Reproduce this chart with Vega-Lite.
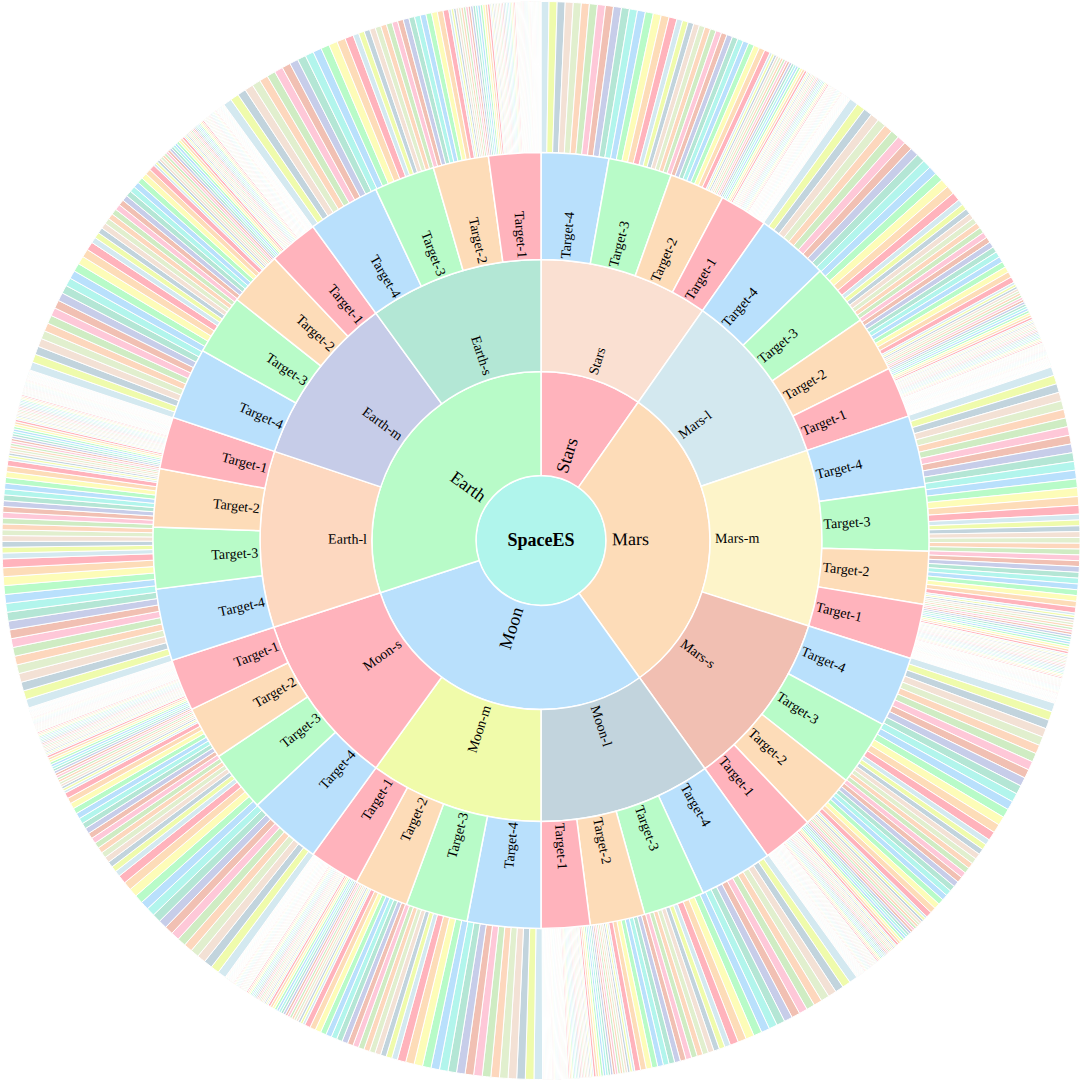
{
  "$schema": "https://vega.github.io/schema/vega-lite/v6.json",
  "width": 1082,
  "height": 1081,
  "autosize": {"type": "fit", "contains": "padding"},
  "padding": 0,
  "background": "white",
  "config": {"view": {"stroke": null}},
  "datasets": {
    "inner": [
      {"level": 0, "name": "SpaceES", "value": 1},
      {"level": 1, "name": "Stars", "value": 351},
      {"level": 1, "name": "Mars", "value": 1092},
      {"level": 1, "name": "Moon", "value": 1077},
      {"level": 1, "name": "Earth", "value": 1080},
      {"level": 2, "name": "Stars", "value": 351},
      {"level": 2, "name": "Mars-l", "value": 362},
      {"level": 2, "name": "Mars-m", "value": 364},
      {"level": 2, "name": "Mars-s", "value": 366},
      {"level": 2, "name": "Moon-l", "value": 357},
      {"level": 2, "name": "Moon-m", "value": 360},
      {"level": 2, "name": "Moon-s", "value": 360},
      {"level": 2, "name": "Earth-l", "value": 365},
      {"level": 2, "name": "Earth-m", "value": 355},
      {"level": 2, "name": "Earth-s", "value": 360},
      {"level": 3, "parent": "Stars", "name": "Target-4", "value": 101},
      {"level": 3, "parent": "Stars", "name": "Target-3", "value": 95},
      {"level": 3, "parent": "Stars", "name": "Target-2", "value": 83},
      {"level": 3, "parent": "Stars", "name": "Target-1", "value": 72},
      {"level": 3, "parent": "Mars-l", "name": "Target-4", "value": 109},
      {"level": 3, "parent": "Mars-l", "name": "Target-3", "value": 94},
      {"level": 3, "parent": "Mars-l", "name": "Target-2", "value": 83},
      {"level": 3, "parent": "Mars-l", "name": "Target-1", "value": 76},
      {"level": 3, "parent": "Mars-m", "name": "Target-4", "value": 107},
      {"level": 3, "parent": "Mars-m", "name": "Target-3", "value": 96},
      {"level": 3, "parent": "Mars-m", "name": "Target-2", "value": 79},
      {"level": 3, "parent": "Mars-m", "name": "Target-1", "value": 82},
      {"level": 3, "parent": "Mars-s", "name": "Target-4", "value": 106},
      {"level": 3, "parent": "Mars-s", "name": "Target-3", "value": 99},
      {"level": 3, "parent": "Mars-s", "name": "Target-2", "value": 84},
      {"level": 3, "parent": "Mars-s", "name": "Target-1", "value": 77},
      {"level": 3, "parent": "Moon-l", "name": "Target-4", "value": 110},
      {"level": 3, "parent": "Moon-l", "name": "Target-3", "value": 92},
      {"level": 3, "parent": "Moon-l", "name": "Target-2", "value": 82},
      {"level": 3, "parent": "Moon-l", "name": "Target-1", "value": 73},
      {"level": 3, "parent": "Moon-m", "name": "Target-4", "value": 110},
      {"level": 3, "parent": "Moon-m", "name": "Target-3", "value": 93},
      {"level": 3, "parent": "Moon-m", "name": "Target-2", "value": 81},
      {"level": 3, "parent": "Moon-m", "name": "Target-1", "value": 76},
      {"level": 3, "parent": "Moon-s", "name": "Target-4", "value": 110},
      {"level": 3, "parent": "Moon-s", "name": "Target-3", "value": 92},
      {"level": 3, "parent": "Moon-s", "name": "Target-2", "value": 80},
      {"level": 3, "parent": "Moon-s", "name": "Target-1", "value": 78},
      {"level": 3, "parent": "Earth-l", "name": "Target-4", "value": 108},
      {"level": 3, "parent": "Earth-l", "name": "Target-3", "value": 92},
      {"level": 3, "parent": "Earth-l", "name": "Target-2", "value": 87},
      {"level": 3, "parent": "Earth-l", "name": "Target-1", "value": 78},
      {"level": 3, "parent": "Earth-m", "name": "Target-4", "value": 108},
      {"level": 3, "parent": "Earth-m", "name": "Target-3", "value": 91},
      {"level": 3, "parent": "Earth-m", "name": "Target-2", "value": 82},
      {"level": 3, "parent": "Earth-m", "name": "Target-1", "value": 74},
      {"level": 3, "parent": "Earth-s", "name": "Target-4", "value": 108},
      {"level": 3, "parent": "Earth-s", "name": "Target-3", "value": 91},
      {"level": 3, "parent": "Earth-s", "name": "Target-2", "value": 83},
      {"level": 3, "parent": "Earth-s", "name": "Target-1", "value": 78}
    ],
    "outer": [
      {"g": "Stars", "leaves": [8.6,8.6,8.6,8.6,8.6,8.6,8.6,8.6,8.6,8.6,8.6,8.6,8.6,8.6,8.6,8.6,8.6,6.2,6.2,6.2,6.2,6.2,6.2,6.2,6.2,6.2,6.2,6.2,6.2,6.2,6.2,6.2,6.2,6.2,2.6,2.6,2.6,2.6,2.6,2.6,2.6,2.6,2.6,2.6,2.6,2.6,2.6,2.6,2.6,2.6,2.6,1.6,1.6,1.6,1.6,1.6,1.6,1.6,1.6,1.6,1.6,1.6,1.6,1.6,1.6,1.6,1.6,1.6,1,1,1,1,1,1,1,1,1,1,1,1,1,1,1,1,1,0.6,0.6,0.6,0.6,0.6,0.6,0.6,0.6,0.6,0.6,0.6,0.6,0.6,0.6,0.6,0.6,0.6]},
      {"g": "Mars-l", "leaves": [9.3,9.3,9.3,9.3,9.3,9.3,9.3,9.3,9.3,9.3,9.3,9.3,9.3,9.3,9.3,9.3,9.3,6.2,6.2,6.2,6.2,6.2,6.2,6.2,6.2,6.2,6.2,6.2,6.2,6.2,6.2,6.2,6.2,6.2,2.6,2.6,2.6,2.6,2.6,2.6,2.6,2.6,2.6,2.6,2.6,2.6,2.6,2.6,2.6,2.6,2.6,1.6,1.6,1.6,1.6,1.6,1.6,1.6,1.6,1.6,1.6,1.6,1.6,1.6,1.6,1.6,1.6,1.6,1,1,1,1,1,1,1,1,1,1,1,1,1,1,1,1,1,0.6,0.6,0.6,0.6,0.6,0.6,0.6,0.6,0.6,0.6,0.6,0.6,0.6,0.6,0.6,0.6,0.6]},
      {"g": "Mars-m", "leaves": [9.4,9.4,9.4,9.4,9.4,9.4,9.4,9.4,9.4,9.4,9.4,9.4,9.4,9.4,9.4,9.4,9.4,6.2,6.2,6.2,6.2,6.2,6.2,6.2,6.2,6.2,6.2,6.2,6.2,6.2,6.2,6.2,6.2,6.2,2.6,2.6,2.6,2.6,2.6,2.6,2.6,2.6,2.6,2.6,2.6,2.6,2.6,2.6,2.6,2.6,2.6,1.6,1.6,1.6,1.6,1.6,1.6,1.6,1.6,1.6,1.6,1.6,1.6,1.6,1.6,1.6,1.6,1.6,1,1,1,1,1,1,1,1,1,1,1,1,1,1,1,1,1,0.6,0.6,0.6,0.6,0.6,0.6,0.6,0.6,0.6,0.6,0.6,0.6,0.6,0.6,0.6,0.6,0.6]},
      {"g": "Mars-s", "leaves": [9.5,9.5,9.5,9.5,9.5,9.5,9.5,9.5,9.5,9.5,9.5,9.5,9.5,9.5,9.5,9.5,9.5,6.2,6.2,6.2,6.2,6.2,6.2,6.2,6.2,6.2,6.2,6.2,6.2,6.2,6.2,6.2,6.2,6.2,2.6,2.6,2.6,2.6,2.6,2.6,2.6,2.6,2.6,2.6,2.6,2.6,2.6,2.6,2.6,2.6,2.6,1.6,1.6,1.6,1.6,1.6,1.6,1.6,1.6,1.6,1.6,1.6,1.6,1.6,1.6,1.6,1.6,1.6,1,1,1,1,1,1,1,1,1,1,1,1,1,1,1,1,1,0.6,0.6,0.6,0.6,0.6,0.6,0.6,0.6,0.6,0.6,0.6,0.6,0.6,0.6,0.6,0.6,0.6]},
      {"g": "Moon-l", "leaves": [9,9,9,9,9,9,9,9,9,9,9,9,9,9,9,9,9,6.2,6.2,6.2,6.2,6.2,6.2,6.2,6.2,6.2,6.2,6.2,6.2,6.2,6.2,6.2,6.2,6.2,2.6,2.6,2.6,2.6,2.6,2.6,2.6,2.6,2.6,2.6,2.6,2.6,2.6,2.6,2.6,2.6,2.6,1.6,1.6,1.6,1.6,1.6,1.6,1.6,1.6,1.6,1.6,1.6,1.6,1.6,1.6,1.6,1.6,1.6,1,1,1,1,1,1,1,1,1,1,1,1,1,1,1,1,1,0.6,0.6,0.6,0.6,0.6,0.6,0.6,0.6,0.6,0.6,0.6,0.6,0.6,0.6,0.6,0.6,0.6]},
      {"g": "Moon-m", "leaves": [9.2,9.2,9.2,9.2,9.2,9.2,9.2,9.2,9.2,9.2,9.2,9.2,9.2,9.2,9.2,9.2,9.2,6.2,6.2,6.2,6.2,6.2,6.2,6.2,6.2,6.2,6.2,6.2,6.2,6.2,6.2,6.2,6.2,6.2,2.6,2.6,2.6,2.6,2.6,2.6,2.6,2.6,2.6,2.6,2.6,2.6,2.6,2.6,2.6,2.6,2.6,1.6,1.6,1.6,1.6,1.6,1.6,1.6,1.6,1.6,1.6,1.6,1.6,1.6,1.6,1.6,1.6,1.6,1,1,1,1,1,1,1,1,1,1,1,1,1,1,1,1,1,0.6,0.6,0.6,0.6,0.6,0.6,0.6,0.6,0.6,0.6,0.6,0.6,0.6,0.6,0.6,0.6,0.6]},
      {"g": "Moon-s", "leaves": [9.2,9.2,9.2,9.2,9.2,9.2,9.2,9.2,9.2,9.2,9.2,9.2,9.2,9.2,9.2,9.2,9.2,6.2,6.2,6.2,6.2,6.2,6.2,6.2,6.2,6.2,6.2,6.2,6.2,6.2,6.2,6.2,6.2,6.2,2.6,2.6,2.6,2.6,2.6,2.6,2.6,2.6,2.6,2.6,2.6,2.6,2.6,2.6,2.6,2.6,2.6,1.6,1.6,1.6,1.6,1.6,1.6,1.6,1.6,1.6,1.6,1.6,1.6,1.6,1.6,1.6,1.6,1.6,1,1,1,1,1,1,1,1,1,1,1,1,1,1,1,1,1,0.6,0.6,0.6,0.6,0.6,0.6,0.6,0.6,0.6,0.6,0.6,0.6,0.6,0.6,0.6,0.6,0.6]},
      {"g": "Earth-l", "leaves": [9.5,9.5,9.5,9.5,9.5,9.5,9.5,9.5,9.5,9.5,9.5,9.5,9.5,9.5,9.5,9.5,9.5,6.2,6.2,6.2,6.2,6.2,6.2,6.2,6.2,6.2,6.2,6.2,6.2,6.2,6.2,6.2,6.2,6.2,2.6,2.6,2.6,2.6,2.6,2.6,2.6,2.6,2.6,2.6,2.6,2.6,2.6,2.6,2.6,2.6,2.6,1.6,1.6,1.6,1.6,1.6,1.6,1.6,1.6,1.6,1.6,1.6,1.6,1.6,1.6,1.6,1.6,1.6,1,1,1,1,1,1,1,1,1,1,1,1,1,1,1,1,1,0.6,0.6,0.6,0.6,0.6,0.6,0.6,0.6,0.6,0.6,0.6,0.6,0.6,0.6,0.6,0.6,0.6]},
      {"g": "Earth-m", "leaves": [8.9,8.9,8.9,8.9,8.9,8.9,8.9,8.9,8.9,8.9,8.9,8.9,8.9,8.9,8.9,8.9,8.9,6.2,6.2,6.2,6.2,6.2,6.2,6.2,6.2,6.2,6.2,6.2,6.2,6.2,6.2,6.2,6.2,6.2,2.6,2.6,2.6,2.6,2.6,2.6,2.6,2.6,2.6,2.6,2.6,2.6,2.6,2.6,2.6,2.6,2.6,1.6,1.6,1.6,1.6,1.6,1.6,1.6,1.6,1.6,1.6,1.6,1.6,1.6,1.6,1.6,1.6,1.6,1,1,1,1,1,1,1,1,1,1,1,1,1,1,1,1,1,0.6,0.6,0.6,0.6,0.6,0.6,0.6,0.6,0.6,0.6,0.6,0.6,0.6,0.6,0.6,0.6,0.6]},
      {"g": "Earth-s", "leaves": [9.2,9.2,9.2,9.2,9.2,9.2,9.2,9.2,9.2,9.2,9.2,9.2,9.2,9.2,9.2,9.2,9.2,6.2,6.2,6.2,6.2,6.2,6.2,6.2,6.2,6.2,6.2,6.2,6.2,6.2,6.2,6.2,6.2,6.2,2.6,2.6,2.6,2.6,2.6,2.6,2.6,2.6,2.6,2.6,2.6,2.6,2.6,2.6,2.6,2.6,2.6,1.6,1.6,1.6,1.6,1.6,1.6,1.6,1.6,1.6,1.6,1.6,1.6,1.6,1.6,1.6,1.6,1.6,1,1,1,1,1,1,1,1,1,1,1,1,1,1,1,1,1,0.6,0.6,0.6,0.6,0.6,0.6,0.6,0.6,0.6,0.6,0.6,0.6,0.6,0.6,0.6,0.6,0.6]}
    ]
  },
  "layer": [
    {
      "data": {"name": "outer"},
      "transform": [
        {"flatten": ["leaves"], "as": ["v"]},
        {"window": [{"op": "row_number", "as": "idx"}]},
        {"window": [{"op": "row_number", "as": "k"}], "groupby": ["g"]},
        {"joinaggregate": [{"op": "sum", "field": "v", "as": "tot"}]},
        {"stack": "v", "groupby": [], "sort": [{"field": "idx", "order": "ascending"}], "as": ["v0", "v1"]},
        {"calculate": "datum.v0 / datum.tot * 360", "as": "a0"},
        {"calculate": "datum.v1 / datum.tot * 360", "as": "a1"}
      ],
      "mark": {"type": "arc", "radius": 539, "radius2": 388, "stroke": "white", "strokeWidth": 1},
      "encoding": {
        "theta": {"field": "a0", "type": "quantitative", "scale": {"domain": [0, 360]}, "stack": null},
        "theta2": {"field": "a1"},
        "color": {
          "field": "k", "type": "ordinal", "legend": null,
          "scale": {"range": ["#d4e9f0","#effbac","#c2d4dd","#f3e1d5","#e1efce","#fdd7bd","#cfecc3","#fec8d8","#f1c0b3","#c7cde9","#b4e6d5","#b2f5ec","#b9e0fc","#b8fbc8","#fdfcb8","#fddcb8","#ffb3bc"]}
        }
      }
    },
    {
      "data": {"name": "inner"},
      "transform": [
        {"window": [{"op": "row_number", "as": "idx"}]},
        {"joinaggregate": [{"op": "sum", "field": "value", "as": "tot"}], "groupby": ["level"]},
        {"stack": "value", "groupby": ["level"], "sort": [{"field": "idx", "order": "ascending"}], "as": ["v0", "v1"]},
        {"calculate": "datum.v0 / datum.tot * 360", "as": "a0"},
        {"calculate": "datum.v1 / datum.tot * 360", "as": "a1"},
        {"calculate": "(datum.a0 + datum.a1) / 2", "as": "mid"},
        {"calculate": "datum.mid < 180 ? datum.mid - 90 : datum.mid - 270", "as": "rot"}
      ],
      "layer": [
        {
          "transform": [{"filter": "datum.level == 0"}],
          "mark": {"type": "arc", "radius": 65, "radius2": 0, "fill": "#b0f5ec", "stroke": "white", "strokeWidth": 1.5},
          "encoding": {
            "theta": {"field": "a0", "type": "quantitative", "scale": {"domain": [0, 360]}, "stack": null},
            "theta2": {"field": "a1"}
          }
        },
        {
          "transform": [{"filter": "datum.level == 1"}],
          "mark": {"type": "arc", "radius": 169, "radius2": 65, "stroke": "white", "strokeWidth": 1.5},
          "encoding": {
            "theta": {"field": "a0", "type": "quantitative", "scale": {"domain": [0, 360]}, "stack": null},
            "theta2": {"field": "a1"},
            "color": {"field": "name", "type": "nominal", "legend": null,
              "scale": {"domain": ["Stars", "Mars", "Moon", "Earth"], "range": ["#ffb3bc", "#fddcb8", "#b9e0fc", "#b8fbc8"]}}
          }
        },
        {
          "transform": [{"filter": "datum.level == 2"}],
          "mark": {"type": "arc", "radius": 281, "radius2": 169, "stroke": "white", "strokeWidth": 1.5},
          "encoding": {
            "theta": {"field": "a0", "type": "quantitative", "scale": {"domain": [0, 360]}, "stack": null},
            "theta2": {"field": "a1"},
            "color": {"field": "name", "type": "nominal", "legend": null,
              "scale": {"domain": ["Stars", "Mars-l", "Mars-m", "Mars-s", "Moon-l", "Moon-m", "Moon-s", "Earth-l", "Earth-m", "Earth-s"],
                        "range": ["#fae0d2", "#d3e8ef", "#fdf4c9", "#f1bfb2", "#c2d4dd", "#f0fbaa", "#ffb3bc", "#fdd8c0", "#c6cce8", "#b3e7d5"]}}
          }
        },
        {
          "transform": [{"filter": "datum.level == 3"}],
          "mark": {"type": "arc", "radius": 388, "radius2": 281, "stroke": "white", "strokeWidth": 1.5},
          "encoding": {
            "theta": {"field": "a0", "type": "quantitative", "scale": {"domain": [0, 360]}, "stack": null},
            "theta2": {"field": "a1"},
            "color": {"field": "name", "type": "nominal", "legend": null,
              "scale": {"domain": ["Target-1", "Target-2", "Target-3", "Target-4"], "range": ["#ffb3bc", "#fddcb8", "#b8fbc8", "#b9e0fc"]}}
          }
        },
        {
          "transform": [{"filter": "datum.level == 0"}],
          "mark": {"type": "text", "align": "center", "baseline": "middle", "font": "Liberation Serif", "fontSize": 18, "fontWeight": "bold", "color": "#000"},
          "encoding": {
            "theta": {"field": "mid", "type": "quantitative", "scale": {"domain": [0, 360]}, "stack": null},
            "radius": {"value": 0},
            "text": {"field": "name"}
          }
        },
        {
          "transform": [{"filter": "datum.level > 0 && datum.mid < 180"}],
          "mark": {"type": "text", "align": "left", "baseline": "middle", "font": "Liberation Serif", "color": "#000"},
          "encoding": {
            "theta": {"field": "mid", "type": "quantitative", "scale": {"domain": [0, 360]}, "stack": null},
            "radius": {"field": "level", "type": "quantitative", "scale": {"type": "linear", "domain": [1, 2, 3], "range": [71, 174, 283]}},
            "angle": {"field": "rot", "type": "quantitative", "scale": null},
            "size": {"field": "level", "type": "quantitative", "legend": null, "scale": {"type": "threshold", "domain": [1.5], "range": [18, 14]}},
            "text": {"field": "name"}
          }
        },
        {
          "transform": [{"filter": "datum.level > 0 && datum.mid >= 180"}],
          "mark": {"type": "text", "align": "right", "baseline": "middle", "font": "Liberation Serif", "color": "#000"},
          "encoding": {
            "theta": {"field": "mid", "type": "quantitative", "scale": {"domain": [0, 360]}, "stack": null},
            "radius": {"field": "level", "type": "quantitative", "scale": {"type": "linear", "domain": [1, 2, 3], "range": [71, 174, 283]}},
            "angle": {"field": "rot", "type": "quantitative", "scale": null},
            "size": {"field": "level", "type": "quantitative", "legend": null, "scale": {"type": "threshold", "domain": [1.5], "range": [18, 14]}},
            "text": {"field": "name"}
          }
        }
      ],
      "resolve": {"scale": {"color": "independent"}}
    }
  ],
  "resolve": {"scale": {"color": "independent"}}
}
